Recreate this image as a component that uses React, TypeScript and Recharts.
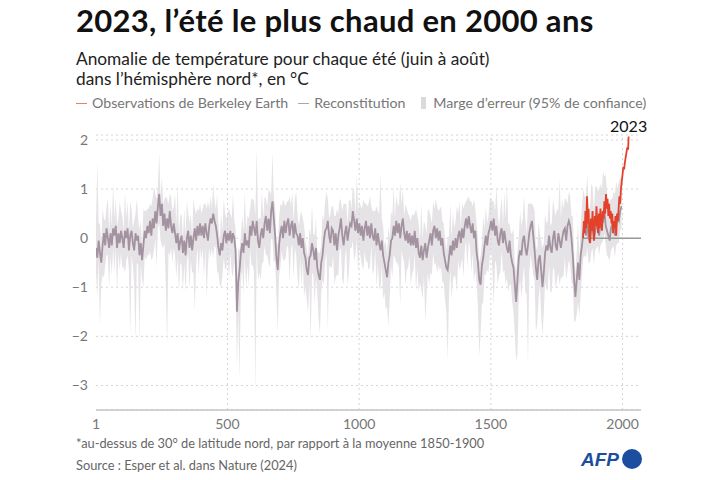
import React from "react"
import {
  ComposedChart,
  Area,
  Line,
  XAxis,
  YAxis,
  CartesianGrid,
  ReferenceLine,
  ReferenceDot,
} from "recharts"

// Reconstruction sampled every 5 years starting in year 1 (one row = one century)
const RECON_START = 1
const RECON_STEP = 5

const RECON_CENTER = [
  -0.2, -0.4, -0.05, -0.3, -0.5, -0.15, 0.1, -0.15, 0.2, 0.0, -0.2, 0.1, -0.15, 0.2, 0.05, 0.25, -0.2, 0.1, -0.1, 0.15,
  0.0, -0.2, 0.15, 0.0, 0.2, -0.25, 0.05, 0.15, -0.1, -0.25, 0.1, -0.05, 0.05, -0.35, -0.1, -0.45, -0.15, 0.15, 0.0, 0.25,
  0.1, 0.35, 0.05, 0.4, 0.2, 0.55, 0.3, 0.65, 0.9, 0.45, 0.7, 0.25, 0.5, 0.15, 0.4, 0.2, 0.55, 0.25, 0.1, 0.3,
  0.1, -0.1, 0.1, -0.25, -0.05, 0.05, -0.3, -0.05, -0.35, 0.0, 0.15, -0.2, 0.05, -0.25, 0.0, 0.2, -0.05, 0.25, 0.05, 0.3,
  0.05, 0.25, 0.0, 0.3, 0.1, -0.05, 0.25, 0.4, 0.3, 0.5, 0.35, 0.25, 0.05, -0.2, -0.35, -0.1, -0.25, 0.05, 0.15, -0.1,
  0.1, -0.05, 0.15, -0.1, 0.1, 0.0, -0.25, -1.5, -0.9, -0.65, -0.3, -0.1, -0.3, 0.1, -0.15, -0.05, -0.2, 0.25, 0.05, 0.35,
  0.2, 0.05, 0.35, -0.05, -0.2, 0.05, 0.2, 0.0, 0.3, 0.45, 0.15, 0.4, 0.1, 0.55, 0.75, 0.4, 0.05, -0.4, -0.65, -0.15,
  0.1, 0.25, 0.0, 0.35, 0.1, 0.3, 0.4, 0.05, 0.25, 0.35, 0.0, 0.3, 0.1, 0.05, -0.15, 0.1, -0.2, 0.0, -0.3, -0.4,
  -0.65, -0.75, -0.4, -0.35, -0.1, -0.25, -0.45, -0.2, -0.6, -0.75, -0.85, -0.5, -0.35, -0.05, 0.15, 0.2, 0.35, 0.05, -0.1, 0.2,
  0.15, -0.15, 0.1, -0.25, 0.05, 0.2, 0.4, 0.05, -0.15, 0.1, 0.25, -0.05, 0.15, 0.3, 0.25, 0.55, 0.35, 0.15, 0.4, 0.1,
  0.3, 0.05, 0.25, -0.05, 0.2, 0.35, 0.05, 0.25, 0.0, 0.3, 0.05, -0.05, 0.2, -0.15, 0.1, -0.1, -0.25, -0.05, -0.35, -0.5,
  -0.65, -0.8, -0.5, -0.35, -0.05, 0.0, 0.25, 0.05, 0.35, 0.1, 0.3, 0.0, 0.25, 0.4, 0.1, -0.05, 0.15, -0.1, 0.1, -0.15,
  0.05, -0.15, 0.15, -0.2, 0.0, -0.3, -0.4, -0.15, -0.45, -0.25, -0.1, -0.4, -0.2, -0.05, 0.1, -0.15, 0.15, 0.25, 0.0, 0.2,
  -0.05, 0.15, -0.15, 0.0, -0.3, -0.45, -0.6, -0.65, -0.4, -0.15, -0.35, -0.05, -0.25, 0.0, -0.2, 0.05, 0.15, -0.1, 0.2, 0.0,
  0.25, 0.4, 0.2, 0.45, 0.25, 0.1, 0.3, 0.0, 0.15, -0.3, -0.5, -0.85, -0.95, -0.55, -0.4, -0.15, 0.05, -0.15, 0.1, 0.2,
  0.35, 0.15, 0.4, 0.05, 0.25, -0.05, -0.15, 0.1, 0.2, -0.1, 0.15, -0.05, -0.2, -0.3, -0.05, -0.35, -0.5, -0.6, -0.95, -1.3,
  -0.85, -0.4, -0.25, -0.35, -0.05, 0.05, -0.2, -0.35, -0.15, 0.1, 0.25, 0.35, 0.05, -0.25, -0.6, -0.85, -0.45, -0.35, -0.65, -1.0,
  -0.7, -0.3, -0.15, -0.25, 0.05, -0.2, -0.3, 0.0, 0.15, -0.15, -0.25, 0.1, -0.05, -0.2, 0.0, 0.15, 0.2, -0.05, 0.25, 0.35,
  0.25, 0.0, -0.35, -0.85, -1.2, -0.85, -0.5, -0.85, -0.35, -0.15, 0.1, 0.25, 0.05, 0.35, 0.0, -0.1, 0.2, 0.25, -0.05, 0.15,
  0.25, 0.35, 0.05, 0.3, 0.4, 0.35, 0.55, 0.25, 0.15, 0.05, -0.05, 0.2, 0.3, 0.25, 0.05, 0.25, 0.4, 0.35, 0.55, 0.65,
]

// 95% error margin: distance above / below the reconstruction
const ERR_UP = [
  0.5, 1.95, 0.35, 0.6, 0.4, 0.75, 0.3, 0.5, 0.45, 0.8, 0.35, 0.6, 0.4, 0.9, 0.35, 0.55, 0.45, 0.3, 0.85, 0.4,
  0.45, 0.35, 0.8, 0.4, 0.55, 0.35, 0.7, 0.45, 0.3, 0.6, 0.4, 0.85, 0.35, 0.5, 0.45, 0.3, 0.75, 0.4, 0.55, 0.35,
  0.5, 0.35, 0.6, 0.4, 0.85, 0.35, 0.5, 0.4, 0.85, 0.35, 0.55, 0.45, 0.3, 0.7, 0.4, 0.5, 0.35, 0.6, 0.45, 0.35,
  0.8, 0.4, 1.0, 0.35, 0.5, 0.45, 0.3, 0.65, 0.4, 0.75, 0.35, 0.5, 0.45, 0.3, 0.8, 0.4, 0.55, 0.35, 0.5, 0.4,
  0.45, 0.35, 0.7, 0.4, 0.5, 0.8, 0.35, 0.45, 0.3, 0.6, 0.4, 0.35, 0.85, 0.45, 0.3, 0.6, 0.4, 0.75, 0.35, 0.5,
  0.4, 0.65, 0.35, 0.5, 0.8, 0.35, 0.45, 0.6, 0.7, 0.4, 0.35, 0.55, 0.45, 0.85, 0.3, 0.5, 0.6, 0.35, 0.75, 0.45,
  0.55, 0.4, 1.5, 0.45, 0.6, 0.35, 0.75, 0.4, 0.55, 0.35, 0.5, 0.6, 0.85, 0.35, 1.0, 0.45, 0.6, 0.35, 0.5, 0.55,
  0.6, 0.4, 0.8, 0.35, 0.55, 0.45, 0.35, 0.8, 0.4, 0.6, 0.35, 0.5, 0.85, 0.45, 0.4, 0.35, 0.75, 0.4, 0.55, 0.35,
  0.45, 0.35, 0.6, 0.4, 0.8, 0.35, 0.5, 0.6, 0.35, 0.45, 0.55, 0.35, 0.85, 0.4, 0.6, 0.75, 0.45, 0.35, 0.6, 0.45,
  0.5, 0.6, 0.35, 0.85, 0.45, 0.6, 0.35, 0.5, 0.85, 0.6, 0.45, 0.35, 0.6, 0.5, 0.35, 0.5, 0.6, 0.35, 0.9, 0.45,
  0.45, 0.6, 0.35, 0.85, 0.5, 0.35, 0.6, 0.45, 0.85, 0.35, 0.5, 0.6, 0.35, 0.8, 0.45, 0.6, 1.55, 0.45, 0.6, 0.35,
  0.6, 0.45, 0.75, 0.35, 0.6, 0.45, 0.8, 0.35, 0.5, 0.6, 0.35, 1.15, 0.45, 0.6, 0.35, 0.75, 0.45, 0.6, 0.35, 0.5,
  0.45, 0.6, 0.35, 0.8, 0.45, 0.6, 0.35, 0.85, 0.45, 0.6, 0.35, 0.5, 0.8, 0.6, 0.35, 0.45, 0.6, 0.35, 0.8, 0.45,
  0.6, 0.45, 0.8, 0.35, 0.6, 0.45, 0.35, 0.65, 0.45, 0.85, 0.35, 0.6, 0.45, 0.35, 0.85, 0.45, 0.6, 0.35, 0.5, 0.6,
  0.45, 0.35, 0.6, 0.4, 0.5, 0.65, 0.35, 0.8, 0.45, 0.6, 0.5, 0.35, 0.6, 0.45, 0.85, 0.35, 0.6, 0.45, 0.35, 0.6,
  0.45, 0.6, 0.35, 0.5, 0.8, 0.6, 0.35, 0.45, 0.65, 0.35, 0.8, 0.45, 1.3, 0.6, 0.35, 0.45, 0.6, 0.8, 0.45, 0.6,
  0.6, 0.45, 0.8, 0.6, 0.45, 0.8, 0.6, 0.45, 0.85, 0.6, 0.45, 0.35, 0.6, 0.8, 0.45, 0.6, 0.8, 0.45, 0.6, 0.8,
  0.6, 0.8, 0.45, 0.6, 0.85, 0.45, 0.6, 0.8, 0.45, 0.6, 0.85, 0.45, 1.25, 0.6, 0.8, 0.45, 0.6, 0.85, 0.45, 0.6,
  0.6, 0.45, 0.8, 0.6, 0.45, 0.6, 0.85, 0.45, 0.6, 0.85, 0.9, 0.6, 0.8, 0.95, 0.7, 0.6, 0.9, 0.8, 0.6, 0.9,
  0.8, 0.6, 0.95, 0.8, 0.6, 1.0, 0.7, 1.05, 0.8, 0.6, 0.8, 0.6, 0.5, 0.7, 0.85, 0.9, 0.6, 0.8, 0.7, 0.5,
]

const ERR_DOWN = [
  0.5, 0.8, 0.4, 1.5, 0.45, 0.6, 0.9, 0.4, 0.55, 0.35, 0.8, 0.45, 0.6, 0.4, 0.75, 0.45, 0.9, 0.4, 0.55, 0.45,
  0.6, 0.4, 0.85, 0.45, 0.55, 0.4, 2.05, 0.5, 0.45, 0.7, 2.2, 0.45, 0.6, 1.75, 0.45, 0.4, 0.85, 0.5, 0.45, 0.6,
  0.45, 0.6, 0.5, 0.8, 0.45, 0.55, 0.9, 0.45, 0.6, 0.5, 0.85, 0.45, 0.6, 1.1, 2.6, 0.5, 0.9, 0.45, 0.6, 0.5,
  0.45, 0.7, 0.5, 0.85, 0.45, 0.6, 0.8, 0.45, 0.75, 0.5, 0.45, 0.85, 0.5, 0.45, 0.7, 1.7, 0.5, 0.45, 0.8, 0.5,
  0.5, 0.45, 0.8, 0.5, 1.3, 0.5, 0.45, 0.8, 0.5, 0.9, 0.5, 0.45, 0.75, 0.5, 0.6, 0.9, 0.5, 0.45, 0.8, 0.5,
  0.5, 0.8, 0.45, 0.6, 0.9, 0.45, 0.6, 1.1, 0.6, 2.25, 0.6, 0.5, 0.85, 0.45, 0.9, 0.5, 0.8, 0.45, 0.6, 0.9,
  0.9, 3.25, 0.5, 0.8, 0.5, 0.9, 0.7, 0.5, 0.45, 0.8, 0.5, 0.9, 0.7, 0.5, 0.8, 0.9, 0.5, 0.8, 1.25, 0.6,
  0.7, 0.5, 0.45, 0.8, 0.5, 0.45, 0.6, 0.95, 0.5, 0.45, 0.8, 0.5, 0.45, 0.85, 0.9, 0.5, 0.8, 0.45, 0.9, 0.6,
  0.6, 0.8, 0.5, 1.75, 0.6, 0.5, 0.9, 0.6, 0.5, 0.9, 1.1, 0.6, 0.5, 0.9, 0.6, 0.5, 2.25, 0.6, 0.5, 0.8,
  0.5, 0.8, 0.9, 0.5, 0.8, 0.45, 0.6, 0.9, 0.8, 0.5, 0.45, 0.9, 0.85, 0.5, 0.45, 0.6, 0.8, 0.5, 0.45, 0.8,
  0.5, 0.45, 0.8, 0.6, 0.45, 0.85, 0.5, 0.9, 0.6, 0.45, 0.8, 0.6, 0.45, 0.85, 0.6, 0.9, 0.8, 0.5, 0.9, 0.6,
  0.8, 0.6, 1.3, 0.9, 0.5, 0.8, 0.6, 0.45, 0.85, 0.6, 0.9, 1.4, 0.5, 0.8, 0.6, 0.9, 0.8, 0.5, 0.45, 0.8,
  0.8, 0.5, 0.45, 0.9, 0.6, 0.8, 0.5, 0.9, 0.8, 0.5, 1.6, 0.8, 0.5, 0.9, 0.8, 0.6, 0.45, 0.8, 0.5, 0.9,
  0.5, 0.8, 0.45, 0.9, 0.6, 0.8, 0.9, 1.85, 0.8, 0.5, 0.9, 0.8, 0.5, 0.8, 0.9, 0.5, 0.8, 0.45, 0.6, 0.8,
  0.5, 0.45, 0.8, 0.5, 0.45, 0.8, 0.6, 0.9, 0.8, 0.6, 0.9, 1.55, 1.0, 0.8, 0.9, 0.6, 0.8, 0.5, 0.8, 0.6,
  0.6, 0.8, 1.8, 0.5, 0.8, 0.9, 0.6, 0.8, 0.45, 0.6, 0.8, 0.9, 0.6, 0.8, 0.9, 0.6, 0.8, 0.9, 1.0, 1.2,
  1.5, 0.8, 0.6, 0.9, 0.8, 0.6, 0.9, 0.8, 2.45, 0.8, 0.6, 0.9, 0.8, 0.6, 1.3, 0.9, 0.8, 0.6, 0.9, 1.0,
  0.8, 0.6, 0.9, 0.8, 0.6, 0.9, 0.8, 0.6, 0.8, 0.9, 0.6, 0.8, 0.9, 0.6, 0.8, 0.9, 0.6, 0.8, 0.9, 0.8,
  0.8, 0.9, 0.6, 0.85, 0.5, 0.7, 0.8, 0.75, 0.8, 0.6, 0.5, 0.6, 0.45, 0.55, 0.5, 0.4, 0.5, 0.45, 0.5, 0.4,
  0.45, 0.5, 0.4, 0.45, 0.5, 0.4, 0.45, 0.4, 0.5, 0.45, 0.4, 0.45, 0.5, 0.4, 0.45, 0.4, 0.5, 0.45, 0.4, 0.45,
]

// Berkeley Earth observations
const OBS_YEARS = [
  1850, 1853, 1856, 1859, 1862, 1865, 1868, 1871, 1874, 1877, 1880, 1883, 1886, 1889, 1892, 1895, 1898, 1901,
  1904, 1907, 1910, 1913, 1916, 1919, 1922, 1925, 1928, 1931, 1934, 1937, 1940, 1943, 1946, 1949, 1952, 1955,
  1958, 1961, 1964, 1967, 1970, 1973, 1976, 1979, 1982, 1985, 1988, 1991, 1994, 1997, 2000, 2003, 2006, 2009,
  2012, 2015, 2018, 2021, 2023,
]
const OBS_VALUES = [
  0.0, 0.35, 0.1, 0.55, 0.2, 0.85, 0.3, 0.6, 0.05, -0.1, 0.4, 0.15, 0.55, 0.2, -0.05, 0.45, 0.25, 0.65,
  0.3, 0.1, 0.5, 0.2, 0.6, 0.35, 0.15, 0.55, 0.4, 0.75, 0.5, 0.9, 0.6, 0.8, 0.45, 0.7, 0.4, 0.55,
  0.3, 0.5, 0.1, 0.35, 0.2, 0.45, 0.05, 0.5, 0.35, 0.6, 0.85, 0.7, 1.0, 1.15, 1.3, 1.45, 1.4, 1.55,
  1.65, 1.75, 1.85, 1.8, 2.07,
]

const X_TICKS = [1, 500, 1000, 1500, 2000]
const Y_TICKS = [-3, -2, -1, 0, 1, 2]

const FONT = "Lato, 'Noto Sans', sans-serif"

const reconData = RECON_CENTER.map((v, i) => ({
  year: RECON_START + i * RECON_STEP,
  value: v,
  band: [v - ERR_DOWN[i], v + ERR_UP[i]],
}))

const obsData = OBS_YEARS.map((y, i) => ({ year: y, value: OBS_VALUES[i] }))

const legendDash = (color: string, ml: number) => (
  <span style={{ display: "inline-block", width: 11, height: 1.5, background: color, verticalAlign: 4, marginLeft: ml, marginRight: 5 }} />
)

export default function App() {
  return (
    <div style={{ position: "absolute", left: 0, top: 0, width: 720, height: 480, background: "#fff", fontFamily: FONT }}>
      <div style={{ position: "absolute", left: 76, top: 1, fontSize: 31, fontWeight: 700, color: "#111", letterSpacing: 0.3, whiteSpace: "nowrap" }}>
        2023, l’été le plus chaud en 2000 ans
      </div>
      <div style={{ position: "absolute", left: 76, top: 49, fontSize: 17.3, color: "#222", lineHeight: "20px" }}>
        Anomalie de température pour chaque été (juin à août)
        <br />
        dans l’hémisphère nord*, en °C
      </div>
      <div style={{ position: "absolute", left: 76, top: 94, fontSize: 14.2, color: "#777", whiteSpace: "nowrap" }}>
        {legendDash("#e8806a", 0)}Observations de Berkeley Earth
        {legendDash("#b0a4ae", 10)}Reconstitution
        <span style={{ display: "inline-block", marginLeft: 16, marginRight: 7, width: 5, height: 12, background: "#dcd9dc", verticalAlign: -1 }} />
        Marge d’erreur (95% de confiance)
      </div>

      <ComposedChart
        width={720}
        height={480}
        margin={{ top: 135, right: 79, bottom: 40, left: 56 }}
        style={{ position: "absolute", left: 0, top: 0 }}
      >
        <CartesianGrid vertical={false} stroke="#d4d4d4" strokeDasharray="2 3" />
        {[500, 1000, 1500, 2000].map((x) => (
          <ReferenceLine key={x} x={x} stroke="#d4d4d4" strokeDasharray="2 3" />
        ))}
        <XAxis
          type="number"
          dataKey="year"
          domain={[1, 2070]}
          ticks={X_TICKS}
          tickLine={false}
          tickSize={0}
          tickMargin={9}
          axisLine={{ stroke: "#c4c4c4", strokeWidth: 1.5 }}
          tick={{ fill: "#777", fontSize: 14, fontFamily: FONT }}
          height={30}
          allowDataOverflow
        />
        <YAxis
          type="number"
          domain={[-3.5, 2.1]}
          ticks={Y_TICKS}
          tickFormatter={(v) => (v < 0 ? `−${Math.abs(v)}` : `${v}`)}
          axisLine={false}
          tickLine={false}
          tickSize={0}
          tickMargin={8}
          width={40}
          tick={{ fill: "#777", fontSize: 14, fontFamily: FONT }}
          allowDataOverflow
        />
        <Area
          data={reconData}
          dataKey="band"
          type="linear"
          stroke="none"
          fill="#e6e3e6"
          fillOpacity={1}
          isAnimationActive={false}
        />
        <Line
          data={reconData}
          dataKey="value"
          type="linear"
          stroke="#a392a0"
          strokeWidth={1.8}
          dot={false}
          isAnimationActive={false}
        />
        <ReferenceLine
          segment={[{ x: 1850, y: 0 }, { x: 2070, y: 0 }]}
          stroke="#999"
          strokeWidth={1.5}
        />
        <Line
          data={obsData}
          dataKey="value"
          type="linear"
          stroke="#e4412b"
          strokeWidth={1.8}
          dot={false}
          isAnimationActive={false}
        />
        <ReferenceDot
          x={2023}
          y={2.07}
          r={0}
          fill="none"
          stroke="none"
          ifOverflow="visible"
          label={{ value: "2023", position: "top", offset: 4, fill: "#111", fontSize: 16, fontFamily: FONT }}
        />
      </ComposedChart>

      <div style={{ position: "absolute", left: 76, top: 432, fontSize: 12.8, color: "#666", lineHeight: "22px" }}>
        *au-dessus de 30° de latitude nord, par rapport à la moyenne 1850-1900
        <br />
        Source : Esper et al. dans Nature (2024)
      </div>
      <svg width={80} height={30} style={{ position: "absolute", left: 574, top: 444 }}>
        <text x={7} y={22} fontSize={19} fontWeight={900} fontStyle="italic" fill="#1c4e9f" fontFamily="'Liberation Sans', sans-serif">
          AFP
        </text>
        <circle cx={58} cy={15} r={10} fill="#1c4e9f" />
      </svg>
    </div>
  )
}
